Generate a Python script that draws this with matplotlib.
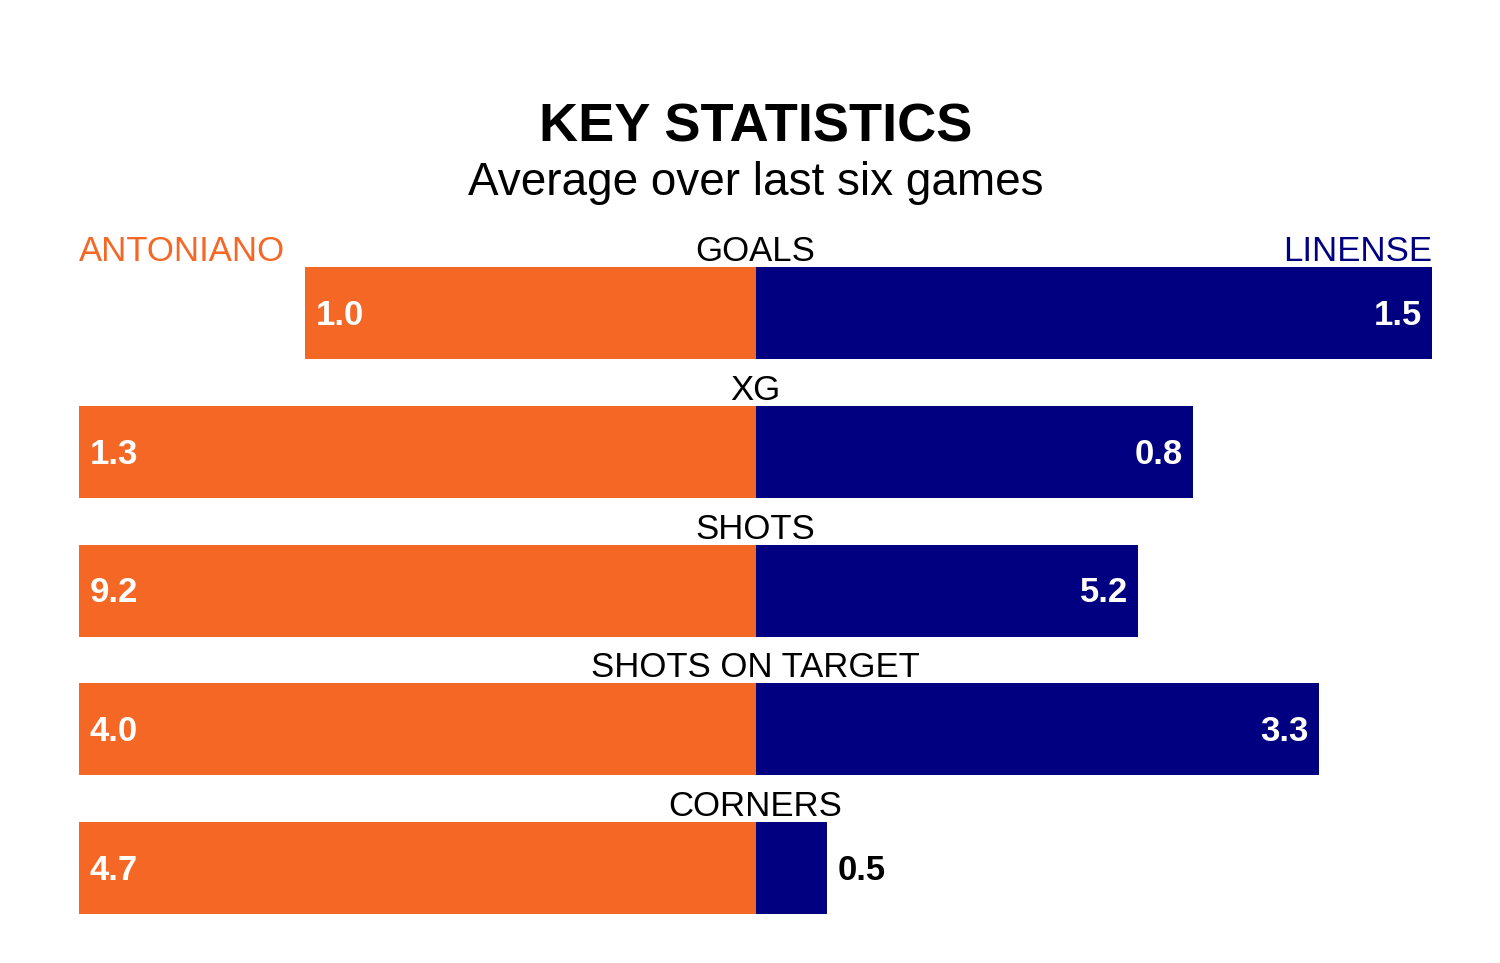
import matplotlib
matplotlib.use("Agg")
import matplotlib.pyplot as plt

categories = ["GOALS", "XG", "SHOTS", "SHOTS ON TARGET", "CORNERS"]
home_team = "ANTONIANO"
away_team = "LINENSE"
home_values = [1.0, 1.3, 9.2, 4.0, 4.7]
away_values = [1.5, 0.84, 5.2, 3.33, 0.5]

ORANGE = "#F56725"
NAVY = "#000080"
FONT = ["Liberation Sans", "DejaVu Sans"]
plt.rcParams["font.family"] = FONT

W, H = 1500, 963
fig = plt.figure(figsize=(W / 100, H / 100), dpi=100)
fig.patch.set_facecolor("white")

# axes spanning bar area
x0, x1 = 79, 1432
ytop, ybot = 267, 914
ax = fig.add_axes([x0 / W, (H - ybot) / H, (x1 - x0) / W, (ybot - ytop) / H])
n = len(categories)
row_px = 138.75
bh = 92 / row_px
ax.set_xlim(-1, 1)
ax.set_ylim(n - 1 + bh / 2, -bh / 2)
ax.axis("off")

px = 2 / (x1 - x0)  # data units per pixel (x)
py = 1 / row_px      # data units per pixel (y)
LBL = 25
for i, (cat, hv, av) in enumerate(zip(categories, home_values, away_values)):
    m = max(hv, av)
    hl = hv / m
    al = av / m
    ax.barh(i, -hl, height=bh, left=0, color=ORANGE, linewidth=0)
    ax.barh(i, al, height=bh, left=0, color=NAVY, linewidth=0)
    yb = i + 12 * py
    ax.text(-hl + 11 * px, yb, f"{hv:.1f}", ha="left", va="baseline",
            color="white", fontsize=LBL, fontweight="bold")
    if al > 0.2:
        ax.text(al - 10 * px, yb, f"{av:.1f}", ha="right", va="baseline",
                color="white", fontsize=LBL, fontweight="bold")
    else:
        ax.text(al + 10 * px, yb, f"{av:.1f}", ha="left", va="baseline",
                color="black", fontsize=LBL, fontweight="bold")
    ax.text(0, i - bh / 2 - 6 * py, cat, ha="center", va="baseline",
            color="black", fontsize=LBL)

ax.text(-1, -bh / 2 - 6 * py, home_team, ha="left", va="baseline", color=ORANGE, fontsize=LBL)
ax.text(1, -bh / 2 - 6 * py, away_team, ha="right", va="baseline", color=NAVY, fontsize=LBL)

cx = 756 / W
fig.text(cx, 1 - 142 / H, "KEY STATISTICS", ha="center", va="baseline",
         fontsize=39, fontweight="bold", color="black")
fig.text(cx, 1 - 195 / H, "Average over last six games", ha="center", va="baseline",
         fontsize=33, color="black")

fig.savefig("out.png", dpi=100, facecolor="white")
